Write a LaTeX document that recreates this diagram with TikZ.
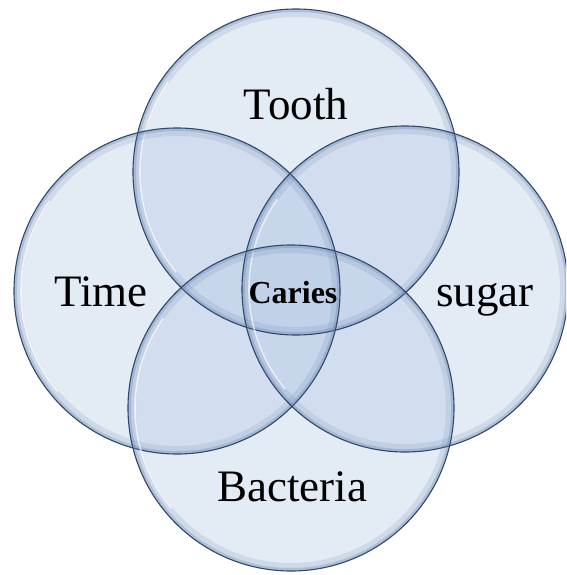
\documentclass[tikz,border=0pt]{standalone}
\usepackage{fontspec}
\setmainfont{Liberation Serif}
\definecolor{vfill}{RGB}{180,200,228}
\definecolor{vedge}{RGB}{50,72,105}
\definecolor{vglow}{RGB}{100,130,175}
\begin{document}
\begin{tikzpicture}[x=1pt,y=-1pt,
  venn/.style={fill=vfill,fill opacity=0.37},
  vennglow/.style={draw=vglow,line width=8pt,opacity=0.16},
  vennring/.style={draw=vglow,line width=3pt,opacity=0.3},
  vennshine/.style={draw=white,line width=1.6pt,opacity=0.7},
  vennedge/.style={draw=vedge,line width=1.1pt},
  lab/.style={font=\fontsize{45}{50}\selectfont,anchor=base,inner sep=0pt},
  clab/.style={font=\fontsize{32}{36}\selectfont\bfseries,anchor=base,inner sep=0pt}]
\useasboundingbox (0,0) rectangle (566,575);
\begin{scope}
\clip (0,0) rectangle (566,575);
\coordinate (ct) at (296,172);
\coordinate (cl) at (177,291);
\coordinate (cr) at (405,289);
\coordinate (cb) at (291,408);
\foreach \c in {ct,cl,cr,cb} {
  \fill[venn] (\c) circle (163);
}
\foreach \c in {ct,cl,cr,cb} {
  \draw[vennglow] (\c) circle (159);
  \draw[vennring] (\c) circle (161.5);
  \draw[vennshine] (\c) ++(140:156) arc[start angle=140,end angle=215,radius=156];
  \draw[vennedge] (\c) circle (163);
}
\end{scope}
\node[lab] (tooth) at (296,120) {Tooth};
\node[lab] (time) at (101,306) {Time};
\node[lab] (sugar) at (485,306) {sugar};
\node[lab] (bact) at (292,501) {Bacteria};
\node[clab] (caries) at (293,303) {Caries};
\end{tikzpicture}
\end{document}
